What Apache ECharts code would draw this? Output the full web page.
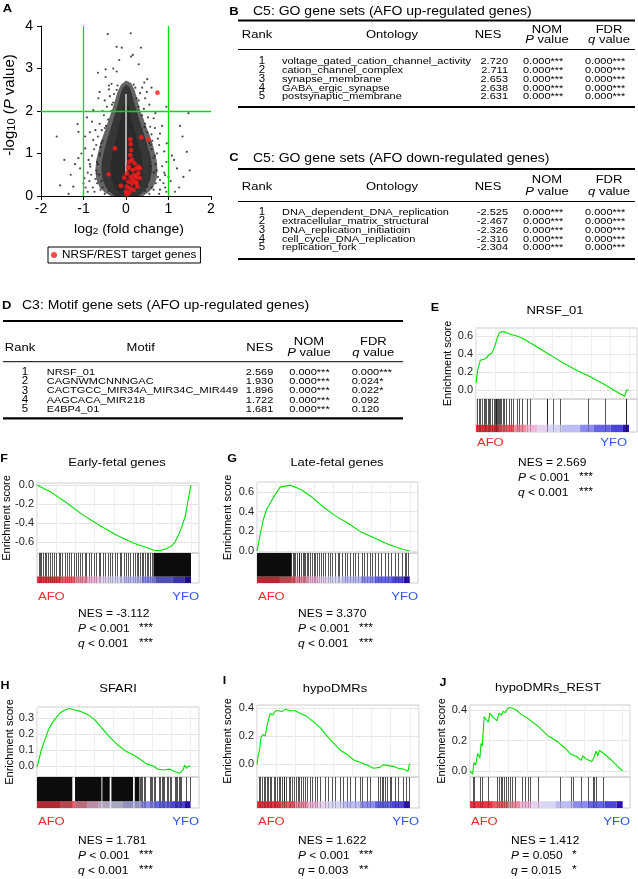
<!DOCTYPE html>
<html><head><meta charset="utf-8">
<script src="https://cdn.jsdelivr.net/npm/echarts@6/dist/echarts.min.js"></script>
<style>html,body{margin:0;padding:0;background:#fff}#c{width:638px;height:879px}</style>
</head><body><div id="c"></div>
<script>
// ---------------- DATA ----------------
// Panel A: volcano (dense point cloud outlines + individual points)
const volcanoCloudHalo = [[-0.36,0],[-0.5,0.08],[-0.62,0.2],[-0.7,0.4],[-0.72,0.62],[-0.7,0.85],[-0.65,1.05],[-0.6,1.25],[-0.53,1.45],[-0.46,1.65],[-0.39,1.85],[-0.32,2.05],[-0.26,2.25],[-0.2,2.45],[-0.12,2.62],[0,2.72],[0.12,2.66],[0.2,2.5],[0.26,2.3],[0.32,2.05],[0.4,1.85],[0.47,1.65],[0.55,1.45],[0.62,1.25],[0.67,1.05],[0.72,0.85],[0.74,0.62],[0.72,0.4],[0.64,0.2],[0.52,0.08],[0.4,0]];
const volcanoCloudDense = [[-0.26,0],[-0.36,0.08],[-0.47,0.2],[-0.55,0.38],[-0.58,0.6],[-0.57,0.8],[-0.53,1.0],[-0.48,1.2],[-0.42,1.4],[-0.36,1.6],[-0.3,1.8],[-0.24,2.0],[-0.18,2.2],[-0.13,2.4],[-0.07,2.55],[0,2.62],[0.08,2.57],[0.14,2.4],[0.19,2.2],[0.25,2.0],[0.31,1.8],[0.38,1.6],[0.44,1.4],[0.5,1.2],[0.56,1.0],[0.6,0.8],[0.61,0.6],[0.57,0.38],[0.49,0.2],[0.39,0.08],[0.3,0]];
const volcanoCloudCore = [[-0.1,0.04],[-0.24,0.16],[-0.33,0.38],[-0.37,0.65],[-0.33,0.95],[-0.26,1.25],[-0.19,1.55],[-0.12,1.85],[-0.05,2.15],[0.05,2.15],[0.12,1.85],[0.2,1.55],[0.28,1.25],[0.36,0.95],[0.4,0.65],[0.37,0.38],[0.28,0.16],[0.14,0.04]];
const volcanoSeam = [[0.0,0.5],[0.0,2.4]];
const volcanoOutliers = [[-0.43,3.81],[0.11,3.83],[-0.22,3.51],[-0.1,3.49],[0.35,3.49],[-0.16,3.2],[0.16,3.32],[0.12,3.28],[-0.48,2.98],[-0.66,2.9],[-0.22,2.93],[0.43,2.67],[-0.34,2.64],[-0.4,2.51],[-0.65,2.3],[0.49,2.45],[-0.77,2.02],[0.69,1.95],[0.65,1.83],[1.47,1.95],[1.27,1.65],[-1.63,1.4],[-1.14,1.69],[-1.12,1.51],[-0.96,1.4],[-0.96,1.12],[0.96,1.24],[1.33,1.4],[1.43,1.04],[-1.12,0.89],[-1.08,0.65],[-0.69,0.53],[1.13,0.85],[1.2,0.65],[0.92,0.49],[0.8,0.38],[-1.24,0.22],[-0.98,0.42],[-0.84,0.69],[-0.61,1.0],[0.73,1.0],[0.8,1.47],[0.57,1.63],[-0.57,1.55],[-0.77,1.32],[-0.88,0.85],
[-0.3,2.2],[-0.28,2.4],[0.25,2.3],[0.3,2.1],[0.22,2.55],[-0.2,2.6],[-0.35,2.0],[0.38,1.9],[-0.42,1.8],[0.45,1.7],[-0.5,1.6],[0.5,1.5],[-0.55,1.3],[0.55,1.25],[-0.6,1.15],[0.6,1.1],[-0.62,0.95],[0.65,0.9],[-0.68,0.8],[0.7,0.75],[-0.7,0.6],[0.72,0.6],[-0.72,0.4],[0.75,0.45],[-0.68,0.3],[0.7,0.3],[-0.6,0.15],[0.65,0.15],[-0.5,0.05],[0.55,0.05],[-0.38,2.35],[0.33,2.42],[-0.45,2.1],[0.42,2.05],[-0.52,1.9],[0.52,1.85],[-0.62,1.7],[0.6,1.45],[-0.66,1.4],[0.62,1.3],[-0.75,1.1],[0.78,1.2],[-0.8,0.95],[0.85,0.7],[-0.82,0.5],[0.88,0.3],[-0.78,0.2],[0.8,0.15],[-0.9,0.1],[0.95,0.1],[-1.0,0.3],[1.05,0.35],[0.58,0.7],[-0.63,0.5],[0.66,0.55],[-0.58,0.35],[0.6,0.2],[-1.3,0.5],[1.25,0.2],[-1.45,0.85],[-1.55,0.25],[1.5,0.6],[-0.3,3.0],[0.3,3.1],
[-0.85,0.75],[-0.9,0.55],[-0.95,0.2],[0.9,0.55],[0.95,0.8],[1.0,0.45],[-0.7,1.2],[0.75,1.35],[-0.72,1.55],[0.68,1.6],[-0.55,2.0],[0.55,2.15],[-0.5,2.25],[0.45,2.3],[-0.4,2.6],[0.38,2.55],[-0.85,1.5],[0.9,1.05],[-1.05,1.0],[1.08,0.95],[-1.2,0.75],[1.15,0.1],[-1.35,0.05],[1.35,0.45],[-0.8,1.75],[0.85,1.65],[-0.62,2.45],[0.6,2.55],[-0.48,2.8],[0.5,2.75],[-0.92,1.85],[0.95,2.1],[-0.74,0.1],[0.78,0.05],[-0.86,0.35],[0.92,0.2],
[-0.4,0.12],[0.45,0.12],[-0.55,0.2],[0.5,0.22],[-0.66,0.75],[0.68,0.95],[-0.58,1.25],[0.58,1.2],[-0.47,1.65],[0.44,1.62],[-0.33,2.15],[0.3,2.25],[-0.22,2.5],[0.18,2.62]];
const nrsfTargets = [[0.74,2.43],[0.52,1.33],[0.36,1.38],[-0.26,1.12],[-0.41,0.51],[0.1,1.33],[0.11,1.22],[0.12,1.08],[0.1,0.96],[0.08,0.81],[0.2,0.77],[0.06,0.65],[0.16,0.61],[0.25,0.65],[0.29,0.69],[0.33,0.65],[0.02,0.53],[0.11,0.45],[0.19,0.49],[-0.04,0.43],[0.06,0.34],[0.14,0.3],[0.22,0.34],[0.25,0.3],[0.02,0.22],[-0.12,0.24],[0.1,0.18],[0.18,0.14],[0.0,0.1],[0.08,0.08],[0.02,0.04],[0.24,0.45],[0.29,0.53],[0.16,0.38],[0.06,0.69],[0.14,0.85],[0.32,0.42],[0.27,0.22]];
const foldChangeCutoffs = [-1, 1];
const logPCutoffs = [2];

// Tables
const tableBTitle = 'C5: GO gene sets (AFO up-regulated genes)';
const tableBRank = ['1','2','3','4','5'];
const tableBOntology = ['voltage_gated_cation_channel_activity','cation_channel_complex','synapse_membrane','GABA_ergic_synapse','postsynaptic_membrane'];
const tableBNES = ['2.720','2.711','2.653','2.638','2.631'];
const tableBNomP = ['0.000***','0.000***','0.000***','0.000***','0.000***'];
const tableBFdrQ = ['0.000***','0.000***','0.000***','0.000***','0.000***'];

const tableCTitle = 'C5: GO gene sets (AFO down-regulated genes)';
const tableCRank = ['1','2','3','4','5'];
const tableCOntology = ['DNA_dependent_DNA_replication','extracellular_matrix_structural','DNA_replication_initiatioin','cell_cycle_DNA_replication','replication_fork'];
const tableCNES = ['-2.525','-2.467','-2.326','-2.310','-2.304'];
const tableCNomP = ['0.000***','0.000***','0.000***','0.000***','0.000***'];
const tableCFdrQ = ['0.000***','0.000***','0.000***','0.000***','0.000***'];

const tableDTitle = 'C3: Motif gene sets (AFO up-regulated genes)';
const tableDRank = ['1','2','3','4','5'];
const tableDMotif = ['NRSF_01','CAGNWMCNNNGAC','CACTGCC_MIR34A_MIR34C_MIR449','AAGCACA_MIR218','E4BP4_01'];
const tableDNES = ['2.569','1.930','1.896','1.722','1.681'];
const tableDNomP = ['0.000***','0.000***','0.000***','0.000***','0.000***'];
const tableDFdrQ = ['0.000***','0.024*','0.022*','0.092','0.120'];

// GSEA running enrichment scores [rank (0-1000), ES]
const esNRSF = [[0,0.08],[11,0.22],[28,0.33],[50,0.34],[72,0.36],[82,0.39],[104,0.41],[115,0.43],[126,0.5],[137,0.57],[152,0.63],[169,0.65],[197,0.64],[223,0.62],[267,0.6],[310,0.57],[397,0.48],[484,0.39],[570,0.30],[657,0.22],[744,0.15],[831,0.07],[918,-0.02],[972,-0.07],[983,0.0],[1000,0.0]];
const esEarly = [[0,0.0],[86,-0.07],[194,-0.19],[302,-0.32],[410,-0.43],[518,-0.53],[626,-0.61],[713,-0.66],[767,-0.69],[799,-0.69],[842,-0.67],[875,-0.64],[896,-0.6],[918,-0.53],[940,-0.44],[961,-0.34],[978,-0.19],[994,-0.05],[1000,0.0]];
const esLate = [[0,0.0],[22,0.18],[43,0.33],[65,0.43],[98,0.52],[130,0.6],[152,0.65],[185,0.66],[217,0.67],[250,0.65],[293,0.62],[359,0.55],[424,0.46],[511,0.36],[598,0.28],[685,0.19],[772,0.13],[859,0.07],[946,0.02],[1000,0.0]];
const esSFARI = [[0,-0.005],[13,0.04],[28,0.1],[50,0.16],[72,0.22],[93,0.26],[115,0.29],[148,0.33],[180,0.35],[213,0.36],[246,0.35],[289,0.34],[333,0.32],[376,0.29],[420,0.24],[474,0.18],[528,0.13],[583,0.09],[626,0.07],[670,0.044],[713,0.013],[757,0.0],[789,-0.02],[822,-0.025],[865,-0.02],[898,-0.035],[930,-0.046],[952,-0.025],[963,0.006],[974,-0.015],[985,0.0],[1000,-0.004]];
const esHypo = [[0,-0.005],[7,0.055],[17,0.1],[26,0.19],[39,0.21],[54,0.2],[65,0.27],[76,0.32],[87,0.36],[104,0.35],[120,0.38],[141,0.38],[163,0.375],[185,0.39],[217,0.38],[250,0.38],[283,0.36],[326,0.34],[370,0.3],[413,0.26],[457,0.2],[500,0.15],[543,0.10],[587,0.07],[630,0.03],[674,0.012],[717,-0.005],[761,-0.03],[804,-0.024],[826,-0.005],[859,-0.012],[891,-0.017],[924,-0.03],[957,-0.036],[989,-0.052],[996,-0.005],[1000,0.002]];
const esHypoREST = [[0,0],[17,-0.02],[26,0.056],[37,0.04],[50,0.115],[65,0.085],[72,0.18],[80,0.164],[93,0.355],[120,0.32],[130,0.38],[152,0.35],[178,0.33],[189,0.38],[207,0.366],[217,0.39],[233,0.384],[246,0.41],[261,0.416],[283,0.41],[304,0.4],[337,0.37],[348,0.38],[380,0.344],[446,0.294],[511,0.23],[533,0.218],[576,0.19],[620,0.153],[663,0.108],[674,0.12],[696,0.097],[728,0.07],[739,0.1],[761,0.079],[772,0.092],[798,0.063],[815,0.097],[826,0.13],[837,0.1],[848,0.135],[870,0.12],[924,0.074],[967,0.03],[1000,0.0]];

// Gene-set hit positions (rank) and dense hit ranges
const hitsNRSF = [7,17,28,39,50,56,67,76,87,93,104,115,121,128,132,137,143,148,158,163,176,184,197,213,228,245,267,284,299,332,354,462,466,505,549,733,842,978,983];
const blocksNRSF = [];
const hitsEarly = [11,22,28,39,50,60,71,86,97,108,125,140,151,162,184,194,210,222,238,251,264,281,292,309,320,335,350,367,384,400,410,428,443,458,475,488,508,518,536,546,562,577,594,605,622,637,648,659,670,680,691,702,713,724,734,745];
const blocksEarly = [[756,1000]];
const hitsLate = [233,241,250,261,272,278,289,298,307,315,326,337,348,359,370,380,391,407,420,435,446,467,478,493,511,528,537,554,576,587,609,630,641,663,685,702,717,739,754,772,793,815,837,859,880,902,924,946,967,978,989];
const blocksLate = [[0,228]];
const hitsSFARI = [674,680,687,696,704,735,743,752,761,770,796,804,813,822,830,850,857,865,874,898,907,915,924,933,941,970,996];
const blocksSFARI = [[0,230],[248,420],[426,474],[485,626],[637,668]];
const hitsHypo = [11,22,33,43,54,65,70,83,91,109,120,130,141,152,163,174,178,191,207,217,228,239,257,265,278,287,304,315,330,348,359,380,391,413,446,467,489,511,543,565,587,609,641,674,685,717,739,793,804,815,826,837,848,870,880,902,924,957,978,996];
const blocksHypo = [];
const hitsHypoREST = [22,28,65,76,120,178,189,202,211,222,233,246,261,276,293,341,359,380,391,446,587,663,674,728,772,804,815,826,870];
const blocksHypoREST = [];

// Ranked-list metric colour bands (rank ranges)
const colorBands = [[0,150],[150,250],[250,330],[330,400],[400,470],[470,560],[560,680],[680,770],[770,880],[880,960],[960,1000]];

// Y tick values
const ticksNRSF = [0,0.2,0.4,0.6];
const ticksEarly = [-0.6,-0.4,-0.2,0];
const ticksLate = [0,0.2,0.4,0.6];
const ticksSFARI = [0,0.1,0.2,0.3];
const ticksHypo = [0,0.2,0.4];
const ticksHypoREST = [0,0.2,0.4];

// Stats [NES, P, P stars, q, q stars]
const statsNRSF = ['2.569','< 0.001','***','< 0.001','***'];
const statsEarly = ['-3.112','< 0.001','***','< 0.001','***'];
const statsLate = ['3.370','< 0.001','***','< 0.001','***'];
const statsSFARI = ['1.781','< 0.001','***','< 0.001','***'];
const statsHypo = ['1.622','< 0.001','***','= 0.003','**'];
const statsHypoREST = ['1.412','= 0.050','*','= 0.015','*'];

// ---------------- STYLE / LAYOUT ----------------
const FONT = '"Liberation Sans", Arial, Helvetica, sans-serif';
const bandColors = ['#e8343f','#ec5a64','#f08a9e','#f2b4d8','#e6d2f0','#d6d6f6','#bcbcf4','#8c8cf0','#6464e6','#4c44d8','#2a10b0'];
const BAR_FRAC = 0.22;
const GREEN = '#00e000';
const SQUEEZE = 0.88;

function richStyles(size, color) {
  return {
    i: {fontStyle:'italic', fontSize:size, fontFamily:FONT, fill:color},
    sub: {fontSize:Math.round(size*0.72), fontFamily:FONT, fill:color, verticalAlign:'bottom'}
  };
}
function T(x, y, text, size, o) {
  o = o || {};
  const color = o.color || '#000';
  const rot = o.rot || 0;
  return {type:'text', x:x, y:y, rotation:rot, scaleY: rot ? 1 : (o.sy || SQUEEZE), silent:true, z:10,
    style:{text:text, fontSize:size, fontFamily:FONT, fontWeight:o.bold?'bold':'normal', fill:color,
      align:o.align||'left', verticalAlign:'middle', rich:richStyles(size, color)}};
}
function HL(x1, x2, y, w) {
  return {type:'line', silent:true, z:10, shape:{x1:x1, y1:y, x2:x2, y2:y}, style:{stroke:'#000', lineWidth:w}};
}

const graphics = [];

graphics.push(T(7.5, 9, 'A', 13, {bold:true, align:'center'}));
graphics.push(T(10, 105, '-log{sub|10} ({i|P} value)', 15, {align:'center', rot:Math.PI/2}));
graphics.push(T(129, 230, 'log{sub|2} (fold change)', 14, {align:'center'}));

function buildTable(t, d) {
  graphics.push(T(t.letterX, t.letterY, t.letter, 13, {bold:true, align:'center'}));
  graphics.push(T(t.titleX, t.titleY, d.title, 14));
  graphics.push(HL(t.x1, t.x2, t.topY, 2.2));
  graphics.push(HL(t.x1, t.x2, t.headLineY, 1));
  graphics.push(HL(t.x1, t.x2, t.bottomY, 2.2));
  graphics.push(T(t.rankHead, t.headY, 'Rank', 13, {align:'center'}));
  graphics.push(T(t.nameHead, t.headY, d.nameHeader, 13, {align:'center'}));
  graphics.push(T(t.nesHead, t.headY, 'NES', 13, {align:'center'}));
  graphics.push(T(t.pHead, t.head1Y, 'NOM', 13, {align:'center'}));
  graphics.push(T(t.pHead, t.head2Y, '{i|P} value', 13, {align:'center'}));
  graphics.push(T(t.qHead, t.head1Y, 'FDR', 13, {align:'center'}));
  graphics.push(T(t.qHead, t.head2Y, '{i|q} value', 13, {align:'center'}));
  d.rank.forEach((r, i) => {
    const y = t.rowY0 + i * t.rowStep;
    graphics.push(T(t.rankCol, y, r, 11.5, {align:'center'}));
    graphics.push(T(t.nameCol, y, d.names[i], 11));
    graphics.push(T(t.nesRight, y, d.nes[i], 11, {align:'right'}));
    graphics.push(T(t.pCol, y, d.p[i], 11));
    graphics.push(T(t.qCol, y, d.q[i], 11));
  });
}
buildTable({letter:'B', letterX:234, letterY:11.5, titleX:253, titleY:12, x1:238, x2:635, topY:20.5, headY:35, head1Y:30, head2Y:40, headLineY:49.5, bottomY:107, rowY0:61.7, rowStep:8.75,
  rankHead:257, rankCol:262, nameHead:392, nameCol:282, nesHead:488, nesRight:508, pHead:547, pCol:523, qHead:609, qCol:585},
  {title:tableBTitle, nameHeader:'Ontology', rank:tableBRank, names:tableBOntology, nes:tableBNES, p:tableBNomP, q:tableBFdrQ});
buildTable({letter:'C', letterX:234, letterY:158.3, titleX:253, titleY:158.5, x1:238, x2:635, topY:169, headY:186.7, head1Y:180, head2Y:192, headLineY:201.5, bottomY:259, rowY0:212.3, rowStep:8.85,
  rankHead:257, rankCol:262, nameHead:392, nameCol:282, nesHead:488, nesRight:508, pHead:547, pCol:523, qHead:609, qCol:585},
  {title:tableCTitle, nameHeader:'Ontology', rank:tableCRank, names:tableCOntology, nes:tableCNES, p:tableCNomP, q:tableCFdrQ});
buildTable({letter:'D', letterX:6.7, letterY:306, titleX:22, titleY:306, x1:3, x2:403, topY:321, headY:348, head1Y:342.3, head2Y:353.3, headLineY:361.7, bottomY:418.3, rowY0:372.3, rowStep:9.25,
  rankHead:20, rankCol:25, nameHead:140.7, nameCol:46.7, nesHead:259.7, nesRight:273.3, pHead:309, pCol:289.3, qHead:373.3, qCol:351.7},
  {title:tableDTitle, nameHeader:'Motif', rank:tableDRank, names:tableDMotif, nes:tableDNES, p:tableDNomP, q:tableDFdrQ});

const gseaPanels = [
  {letter:'E', lx:435, ly:308.3, title:'NRSF_01', tx:555, ty:311, left:476, right:637, top:328, esBottom:399, bottom:432, yMin:-0.1, yMax:0.689, xMax:1052, ylabX:448, afoY:443, yfoRight:627, statX:518, statY:463,
   es:esNRSF, hits:hitsNRSF, blocks:blocksNRSF, ticks:ticksNRSF, stats:statsNRSF},
  {letter:'F', lx:4, ly:459, title:'Early-fetal genes', tx:117, ty:463, left:37, right:199, top:483, esBottom:553, bottom:583, yMin:-0.716, yMax:0.021, xMax:1052, ylabX:7, afoY:597, yfoRight:199, statX:78, statY:614,
   es:esEarly, hits:hitsEarly, blocks:blocksEarly, ticks:ticksEarly, stats:statsEarly},
  {letter:'G', lx:232, ly:459, title:'Late-fetal genes', tx:337, ty:463, left:257, right:418, top:482, esBottom:553, bottom:583, yMin:-0.02, yMax:0.702, xMax:1054, ylabX:228, afoY:597, yfoRight:418, statX:298, statY:614,
   es:esLate, hits:hitsLate, blocks:blocksLate, ticks:ticksLate, stats:statsLate},
  {letter:'H', lx:5, ly:685.5, title:'SFARI', tx:118, ty:689, left:37, right:199, top:707, esBottom:777, bottom:808, yMin:-0.069, yMax:0.369, xMax:1056, ylabX:10, afoY:822, yfoRight:199, statX:78, statY:841,
   es:esSFARI, hits:hitsSFARI, blocks:blocksSFARI, ticks:ticksSFARI, stats:statsSFARI},
  {letter:'I', lx:224.5, ly:681, title:'hypoDMRs', tx:335, ty:689, left:257, right:419, top:705, esBottom:777, bottom:808, yMin:-0.093, yMax:0.421, xMax:1060, ylabX:228, afoY:822, yfoRight:419, statX:298, statY:841,
   es:esHypo, hits:hitsHypo, blocks:blocksHypo, ticks:ticksHypo, stats:statsHypo},
  {letter:'J', lx:443, ly:683, title:'hypoDMRs_REST', tx:548, ty:688, left:470, right:630, top:705, esBottom:777, bottom:808, yMin:-0.039, yMax:0.433, xMax:1048, ylabX:442, afoY:822, yfoRight:630, statX:511, statY:841,
   es:esHypoREST, hits:hitsHypoREST, blocks:blocksHypoREST, ticks:ticksHypoREST, stats:statsHypoREST}
];

function renderHit(params, api) {
  const x = Math.round(api.coord([api.value(0), 0])[0]) + 0.5;
  const yTop = api.coord([0, 1])[1];
  const yMid = api.coord([0, BAR_FRAC])[1];
  const yBot = api.coord([0, 0])[1];
  return {type:'group', children:[
    {type:'line', shape:{x1:x, y1:yTop, x2:x, y2:yMid}, style:{stroke:'#111', lineWidth:1, opacity:0.72}},
    {type:'line', shape:{x1:x, y1:yMid, x2:x, y2:yBot}, style:{stroke:'#000', lineWidth:1, opacity:0.22}}
  ]};
}
function renderBlock(params, api) {
  const p0 = api.coord([api.value(0), 1]);
  const p1 = api.coord([api.value(1), BAR_FRAC]);
  const p2 = api.coord([api.value(1), 0]);
  return {type:'group', children:[
    {type:'rect', shape:{x:p0[0], y:p0[1], width:p1[0]-p0[0], height:p1[1]-p0[1]}, style:{fill:'#0c0c0c'}},
    {type:'rect', shape:{x:p0[0], y:p1[1], width:p1[0]-p0[0], height:p2[1]-p1[1]}, style:{fill:'#000', opacity:0.22}}
  ]};
}
function renderBand(params, api) {
  const p0 = api.coord([api.value(0), BAR_FRAC]);
  const p1 = api.coord([api.value(1), 0]);
  return {type:'rect', shape:{x:p0[0], y:p0[1], width:p1[0]-p0[0], height:p1[1]-p0[1]}, style:{fill:bandColors[api.value(2)]}};
}
function polygonSeries(points, fill, z) {
  return {type:'custom', xAxisIndex:0, yAxisIndex:0, data:[[0,0]], silent:true, z:z,
    renderItem:(p, api) => ({type:'polygon', shape:{points:points.map(q => api.coord(q))}, style:{fill:fill}})};
}

const grids = [{left:41, top:26, width:170, height:170}];
const xAxes = [{gridIndex:0, type:'value', min:-2, max:2, interval:1,
  axisLine:{onZero:false, lineStyle:{color:'#000', width:1}}, axisTick:{length:4, lineStyle:{color:'#000'}},
  axisLabel:{fontSize:14, color:'#000', fontFamily:FONT, margin:6}, splitLine:{show:false}}];
const yAxes = [{gridIndex:0, type:'value', min:0, max:4, interval:1,
  axisLine:{show:true, onZero:false, lineStyle:{color:'#000', width:1}}, axisTick:{show:true, length:4, lineStyle:{color:'#000'}},
  axisLabel:{fontSize:14, color:'#000', fontFamily:FONT, margin:8}, splitLine:{show:false}}];

const series = [
  polygonSeries(volcanoCloudHalo, '#666666', 1),
  polygonSeries(volcanoCloudDense, '#363636', 2),
  polygonSeries(volcanoCloudCore, '#2a2a2a', 3),
  {type:'line', xAxisIndex:0, yAxisIndex:0, data:volcanoSeam, symbol:'none', silent:true, z:3,
   lineStyle:{color:'#ffffff', width:1.5, opacity:0.8}},
  {type:'scatter', xAxisIndex:0, yAxisIndex:0, data:volcanoOutliers, symbolSize:2.2, silent:true, z:4,
   itemStyle:{color:'#1e1e1e'},
   markLine:{silent:true, symbol:'none', label:{show:false}, lineStyle:{color:GREEN, width:1.3, type:'solid'},
     data: foldChangeCutoffs.map(v => ({xAxis:v})).concat(logPCutoffs.map(v => ({yAxis:v})))}},
  {type:'scatter', name:'NRSF/REST target genes', xAxisIndex:0, yAxisIndex:0, data:nrsfTargets, symbolSize:4.8, z:6,
   itemStyle:{color:'#ff1a1a'}}
];

gseaPanels.forEach((P, k) => {
  const gi = 1 + 2*k, hi = 2 + 2*k;
  const w = P.right - P.left;
  grids.push({left:P.left, top:P.top, width:w, height:P.esBottom - P.top, show:true, borderColor:'#cccccc', borderWidth:1});
  grids.push({left:P.left, top:P.esBottom, width:w, height:P.bottom - P.esBottom, show:true, borderColor:'#cccccc', borderWidth:1});
  xAxes.push({gridIndex:gi, type:'value', min:0, max:P.xMax, interval:125,
    axisLine:{show:false}, axisTick:{show:false}, axisLabel:{show:false}, splitLine:{show:true, lineStyle:{color:'#efefef'}}});
  xAxes.push({gridIndex:hi, type:'value', min:0, max:P.xMax, show:false});
  yAxes.push({gridIndex:gi, type:'value', min:P.yMin, max:P.yMax,
    axisLine:{show:false}, axisTick:{show:false, customValues:P.ticks},
    axisLabel:{customValues:P.ticks, formatter:v => (Math.abs(v) < 1e-9 ? 0 : v).toFixed(1), fontSize:11, color:'#222', fontFamily:FONT, margin:3},
    splitLine:{show:true, lineStyle:{color:'#e4e4e4'}}});
  yAxes.push({gridIndex:hi, type:'value', min:0, max:1, show:false});

  series.push({type:'line', xAxisIndex:gi, yAxisIndex:gi, data:P.es, symbol:'none', showSymbol:false, silent:true, z:5,
    lineStyle:{color:GREEN, width:1.1}});
  series.push({type:'custom', xAxisIndex:hi, yAxisIndex:hi, silent:true, z:1,
    data:colorBands.map((b, i) => [b[0], b[1], i]), renderItem:renderBand});
  series.push({type:'custom', xAxisIndex:hi, yAxisIndex:hi, silent:true, z:2,
    data:P.blocks.map(b => [b[0], b[1]]), renderItem:renderBlock});
  series.push({type:'custom', xAxisIndex:hi, yAxisIndex:hi, silent:true, z:3,
    data:P.hits.map(r => [r, 0.5]), renderItem:renderHit});

  graphics.push(T(P.lx, P.ly, P.letter, 12.5, {bold:true, align:'center'}));
  graphics.push(T(P.tx, P.ty, P.title, 13, {align:'center'}));
  graphics.push(T(P.ylabX, (P.top + P.esBottom)/2, 'Enrichment score', 11, {align:'center', rot:Math.PI/2}));
  graphics.push(T(P.left + 1, P.afoY, 'AFO', 13, {color:'#f22a2a'}));
  graphics.push(T(P.yfoRight, P.afoY, 'YFO', 13, {color:'#2f55f0', align:'right'}));
  graphics.push(T(P.statX, P.statY, 'NES = ' + P.stats[0], 12));
  graphics.push(T(P.statX, P.statY + 15.5, '{i|P} ' + P.stats[1], 12));
  graphics.push(T(P.statX + 61, P.statY + 14.5, P.stats[2], 12));
  graphics.push(T(P.statX, P.statY + 30.5, '{i|q} ' + P.stats[3], 12));
  graphics.push(T(P.statX + 61, P.statY + 29.5, P.stats[4], 12));
});

const chart = echarts.init(document.getElementById('c'), null, {renderer:'canvas'});
chart.setOption({
  animation:false,
  backgroundColor:'#ffffff',
  textStyle:{fontFamily:FONT},
  legend:{data:['NRSF/REST target genes'], left:48, top:247, icon:'circle', itemWidth:6, itemHeight:6,
    padding:[2,4,2,3], borderColor:'#000', borderWidth:1, selectedMode:false,
    textStyle:{fontSize:11.7, color:'#000', fontFamily:FONT}},
  grid:grids, xAxis:xAxes, yAxis:yAxes, series:series,
  graphic:{elements:graphics}
});
</script></body></html>
